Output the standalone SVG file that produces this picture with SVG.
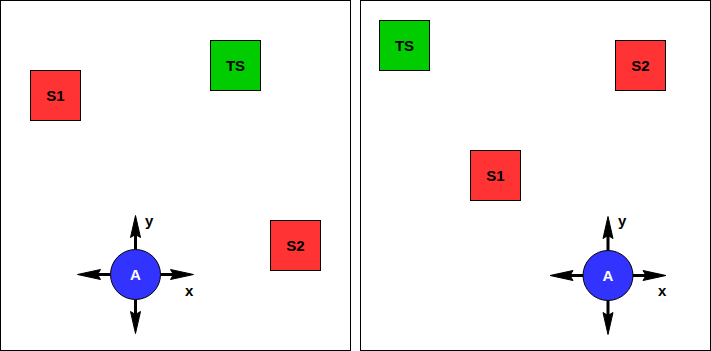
<svg xmlns="http://www.w3.org/2000/svg" width="711" height="351" viewBox="0 0 711 351">
<style>
.panel{fill:#fff;stroke:#000;stroke-width:1}
.red{fill:#ff3333;stroke:#000;stroke-width:1}
.green{fill:#00cc00;stroke:#000;stroke-width:1}
.blue{fill:#3333ff;stroke:#000;stroke-width:1}
.t{font-family:"Liberation Sans",Arial,sans-serif;font-weight:bold;font-size:15px;text-anchor:middle;dominant-baseline:central;fill:#000}
.tw{fill:#fff}
.ax{font-family:"Liberation Sans",Arial,sans-serif;font-weight:bold;font-size:15px;fill:#000}
.sh{stroke:#000;stroke-width:3;fill:none}
.hd{fill:#000;stroke:#000;stroke-width:1}
</style>
<defs>
<g id="axes">
<path class="sh" d="M0,-25 V-42 M0,25 V42 M-25,0 H-42 M25,0 H42"/>
<path class="hd" d="M0,-59 L5,-37 L0,-40 L-5,-37 Z"/>
<path class="hd" d="M0,59 L5,37 L0,40 L-5,37 Z"/>
<path class="hd" d="M-58,0 L-35,-5 L-38,0 L-35,5 Z"/>
<path class="hd" d="M58,0 L35,-5 L38,0 L35,5 Z"/>
</g>
</defs>
<rect class="panel" x="0.5" y="0.5" width="350" height="350"/>
<rect class="panel" x="360.5" y="0.5" width="350" height="350"/>
<g id="connectors">
<use href="#axes" x="135.5" y="274.5"/>
<use href="#axes" x="608" y="275.5"/>
</g>
<g id="left-S1"><rect class="red" x="30.5" y="70.5" width="50" height="50"/><text class="t" x="55.5" y="95.5">S1</text></g>
<g id="left-TS"><rect class="green" x="210.5" y="40.5" width="50" height="50"/><text class="t" x="235.5" y="65.5">TS</text></g>
<g id="left-S2"><rect class="red" x="270.5" y="220.5" width="50" height="50"/><text class="t" x="295.5" y="245.5">S2</text></g>
<g id="left-A"><circle class="blue" cx="135.5" cy="274.5" r="25"/><text class="t tw" x="135.5" y="274.5">A</text><text class="ax" x="145" y="226">y</text><text class="ax" x="185" y="296">x</text></g>
<g id="right-TS"><rect class="green" x="379.5" y="20.5" width="50" height="50"/><text class="t" x="404.5" y="45.5">TS</text></g>
<g id="right-S2"><rect class="red" x="615.5" y="40.5" width="50" height="50"/><text class="t" x="640.5" y="65.5">S2</text></g>
<g id="right-S1"><rect class="red" x="470.5" y="150.5" width="50" height="50"/><text class="t" x="495.5" y="175.5">S1</text></g>
<g id="right-A"><circle class="blue" cx="608" cy="275.5" r="25"/><text class="t tw" x="608" y="275.5">A</text><text class="ax" x="618" y="226">y</text><text class="ax" x="658" y="296">x</text></g>
</svg>
